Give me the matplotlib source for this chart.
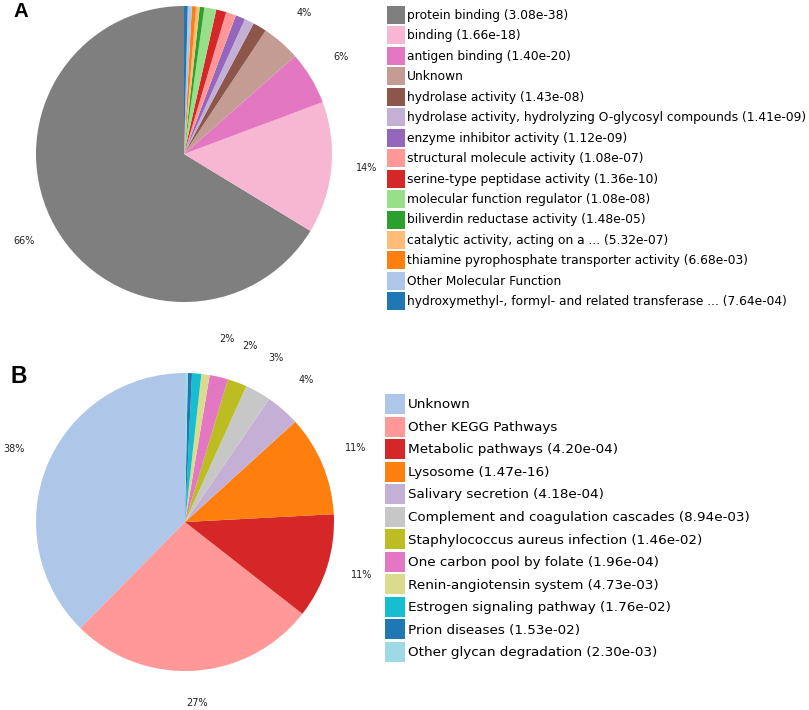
import matplotlib
matplotlib.use("Agg")
import matplotlib.pyplot as plt
from matplotlib.transforms import ScaledTranslation

# ---- Panel A: Molecular Function ----
mf_labels = [
    "protein binding (3.08e-38)",
    "binding (1.66e-18)",
    "antigen binding (1.40e-20)",
    "Unknown",
    "hydrolase activity (1.43e-08)",
    "hydrolase activity, hydrolyzing O-glycosyl compounds (1.41e-09)",
    "enzyme inhibitor activity (1.12e-09)",
    "structural molecule activity (1.08e-07)",
    "serine-type peptidase activity (1.36e-10)",
    "molecular function regulator (1.08e-08)",
    "biliverdin reductase activity (1.48e-05)",
    "catalytic activity, acting on a ... (5.32e-07)",
    "thiamine pyrophosphate transporter activity (6.68e-03)",
    "Other Molecular Function",
    "hydroxymethyl-, formyl- and related transferase ... (7.64e-04)",
]
mf_values = [66.3, 14.4, 5.8, 4.2, 1.5, 1.05, 1.05, 1.1, 1.1, 1.3, 0.5, 0.4, 0.45, 0.45, 0.4]
mf_colors = ["#7f7f7f", "#f7b6d2", "#e377c2", "#c49c94", "#8c564b", "#c5b0d5", "#9467bd",
             "#ff9896", "#d62728", "#98df8a", "#2ca02c", "#ffbb78", "#ff7f0e", "#aec7e8", "#1f77b4"]

# ---- Panel B: KEGG pathways ----
kegg_labels = [
    "Unknown",
    "Other KEGG Pathways",
    "Metabolic pathways (4.20e-04)",
    "Lysosome (1.47e-16)",
    "Salivary secretion (4.18e-04)",
    "Complement and coagulation cascades (8.94e-03)",
    "Staphylococcus aureus infection (1.46e-02)",
    "One carbon pool by folate (1.96e-04)",
    "Renin-angiotensin system (4.73e-03)",
    "Estrogen signaling pathway (1.76e-02)",
    "Prion diseases (1.53e-02)",
    "Other glycan degradation (2.30e-03)",
]
kegg_values = [37.6, 26.8, 11.4, 10.9, 3.7, 2.8, 2.1, 2.0, 0.9, 1.0, 0.45, 0.3]
kegg_colors = ["#aec7e8", "#ff9896", "#d62728", "#ff7f0e", "#c5b0d5", "#c7c7c7", "#bcbd22",
               "#e377c2", "#dbdb8d", "#17becf", "#1f77b4", "#9edae5"]

W, H = 809, 710
fig = plt.figure(figsize=(W / 100, H / 100), dpi=100)
fig.patch.set_facecolor("white")


def px_axes(cx, cy, r):
    return fig.add_axes([(cx - r) / W, (H - cy - r) / H, 2 * r / W, 2 * r / H])


def draw_pie(ax, values, colors, thresh):
    wedges, texts, autotexts = ax.pie(
        values, colors=colors, startangle=90, counterclock=True,
        autopct=lambda p: f"{p:.0f}%" if p >= thresh else "",
        pctdistance=1.24, radius=1.0,
        textprops=dict(fontsize=7, color="#222222"))
    shift = ScaledTranslation(0, 3 / 100, fig.dpi_scale_trans)
    for t in autotexts:
        t.set_transform(t.get_transform() + shift)
    ax.set_xlim(-1, 1)
    ax.set_ylim(-1, 1)
    ax.set_aspect("equal")
    ax.axis("off")
    return wedges


axA = px_axes(184, 154, 148)
wA = draw_pie(axA, mf_values, mf_colors, 3.0)
axB = px_axes(185, 522, 149)
wB = draw_pie(axB, kegg_values, kegg_colors, 1.5)

legA_kw = dict(loc="upper left", frameon=False, fontsize=8.8, borderpad=0, borderaxespad=0,
               handlelength=1.47, handleheight=1.89, handletextpad=0.16, labelspacing=0.2)
legB_kw = dict(loc="upper left", frameon=False, fontsize=9.7, borderpad=0, borderaxespad=0,
               handlelength=1.485, handleheight=1.91, handletextpad=0.22, labelspacing=0.186)
fig.legend(wA, mf_labels, bbox_to_anchor=(387 / W, 1 - 6 / H), **legA_kw)
fig.legend(wB, kegg_labels, bbox_to_anchor=(385 / W, 1 - 394 / H), **legB_kw)

fig.text(13 / W, 1 - 2 / H, "A", fontsize=14.7, fontweight="bold", family="Liberation Sans",
         va="top", ha="left")
fig.text(11 / W, 1 - 365 / H, "B", fontsize=16.5, fontweight="bold", family="Liberation Sans",
         va="top", ha="left")

fig.savefig("out.png", dpi=100, facecolor="white")
